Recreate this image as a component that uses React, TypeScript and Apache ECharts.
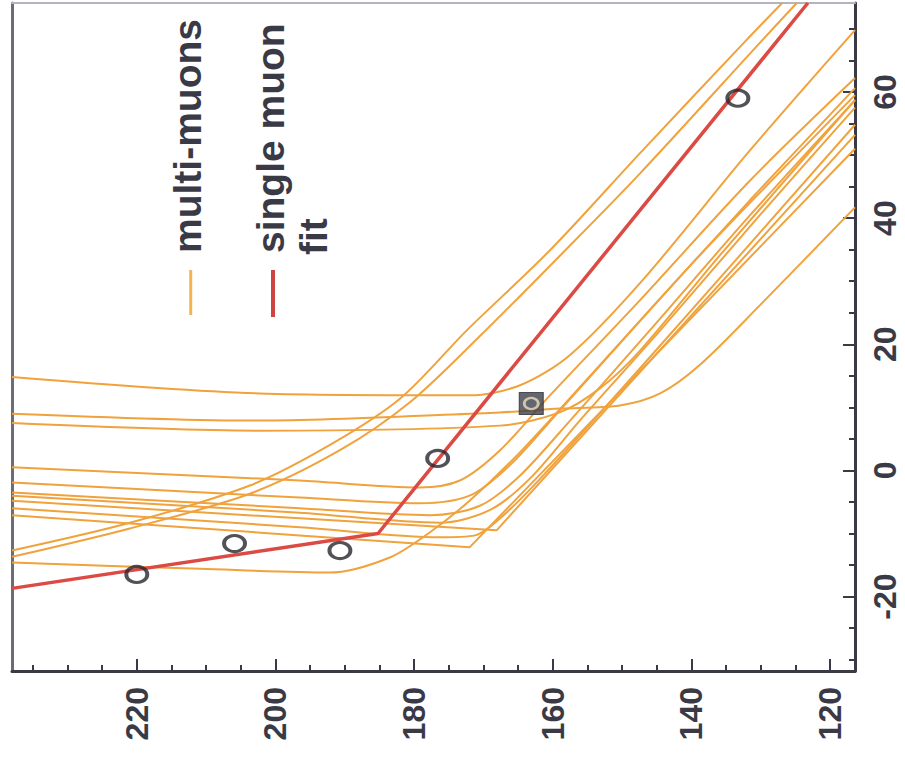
import React, { useEffect, useRef } from "react";
import * as echarts from "echarts";

// ---- axis ticks ----
const xMajorTicks = [120, 140, 160, 180, 200, 220];
const xMinorTicks = [120, 125, 130, 135, 140, 145, 150, 155, 160, 165, 170, 175, 180, 185, 190, 195, 200, 205, 210, 215, 220, 225, 230, 235];
const yMajorTicks = [-20, 0, 20, 40, 60];
const yMinorTicks = [-30, -25, -20, -15, -10, -5, 0, 5, 10, 15, 20, 25, 30, 35, 40, 45, 50, 55, 60, 65, 70];

// ---- single muon fit and hits ----
const fitLine = [[238.0, -18.7], [185.2, -10.0], [123.2, 74.1]];
const hitPoints = [[220.0, -16.5], [205.9, -11.6], [190.7, -12.7], [176.6, 1.9], [133.3, 59.0]];
const squarePoint = [[163.1, 10.6]];

// ---- multi-muon curves ----
const mu1 = [[238.0, -12.7], [221.0, -8.3], [203.7, -2.4], [192.2, 4.0], [182.0, 11.4], [172.4, 22.2], [160.4, 34.9], [147.4, 50.3], [132.0, 68.3], [126.9, 74.1]];
const mu2 = [[238.0, -13.7], [221.0, -9.2], [203.7, -3.7], [190.7, 3.2], [180.6, 10.8], [170.5, 21.3], [159.0, 34.0], [147.4, 47.1], [129.7, 68.3], [124.8, 74.1]];
const mu3 = [[238.0, 14.8], [202.3, 12.2], [172.0, 11.9], [164.7, 13.5], [157.5, 18.3], [147.0, 30.2], [131.5, 50.8], [116.4, 69.8]];
const mu4 = [[238.0, 9.0], [202.3, 7.9], [167.6, 9.2], [159.0, 9.8], [150.3, 10.3], [144.5, 12.2], [138.8, 16.7], [130.1, 26.2], [116.4, 41.7]];
const mu5 = [[238.0, 7.5], [202.3, 6.3], [167.6, 7.1], [159.0, 9.2], [153.2, 13.0], [147.4, 19.0], [135.9, 34.1], [116.4, 58.7]];
const mu6 = [[238.0, 0.5], [196.5, -1.6], [179.2, -2.7], [173.4, -1.6], [167.6, 3.2], [160.4, 11.9], [147.4, 27.0], [131.5, 46.0], [116.4, 62.2]];
const mu7 = [[238.0, -1.9], [196.5, -4.3], [179.2, -5.2], [172.0, -4.0], [166.2, 0.8], [159.0, 9.5], [146.0, 25.4], [131.5, 42.9], [116.4, 60.6]];
const mu8 = [[238.0, -3.5], [196.5, -6.0], [177.7, -7.1], [170.5, -5.6], [164.7, -0.8], [157.5, 7.9], [146.0, 22.2], [131.5, 40.5], [116.4, 58.7]];
const mu9 = [[238.0, -4.0], [196.5, -6.7], [176.3, -8.3], [169.1, -6.3], [163.3, -1.3], [156.1, 7.9], [144.5, 22.2], [130.1, 40.5], [116.4, 57.5]];
const mu10 = [[238.0, -14.6], [210.9, -15.6], [192.2, -16.2], [183.5, -13.8], [177.7, -9.8], [172.0, -4.8], [164.7, 2.9], [153.2, 16.7], [138.8, 34.1], [116.4, 59.5]];
const mu11 = [[238.0, -7.1], [196.5, -10.3], [172.0, -12.2], [116.4, 51.0]];
const mu12 = [[238.0, -4.8], [196.5, -7.6], [168.1, -9.5], [116.4, 53.2]];
const mu13 = [[238.0, -6.0], [196.5, -9.0], [176.3, -10.6], [171.2, -10.3], [167.6, -7.6], [161.8, -1.3], [147.4, 16.2], [116.4, 54.8]];

const smoothCurves = [mu1, mu2, mu3, mu4, mu5, mu6, mu7, mu8, mu9, mu10, mu13];
const sharpCurves = [mu11, mu12];

const ORANGE = "#f0a23c";
const RED = "#dc4a44";
const DARK = "#3a3a46";
const FONT = "Liberation Sans";

export default function App() {
  const ref = useRef<HTMLDivElement>(null);
  useEffect(() => {
    if (!ref.current) return;
    const chart = echarts.init(ref.current, undefined, { renderer: "svg" });
    const xMin = 116.4, xMax = 238;
    const yMin = -31.8, yMax = 74.1;
    const orangeSeries: any[] = [];
    smoothCurves.forEach((c, i) => {
      orangeSeries.push({
        name: "multi-muons " + (i + 1), type: "line", data: c, showSymbol: false, smooth: 0.3,
        lineStyle: { color: ORANGE, width: 2 }, z: 2, silent: true,
      });
    });
    sharpCurves.forEach((c, i) => {
      orangeSeries.push({
        name: "multi-muons k" + (i + 1), type: "line", data: c, showSymbol: false, smooth: false,
        lineStyle: { color: ORANGE, width: 2 }, z: 2, silent: true,
      });
    });
    const option: any = {
      animation: false,
      backgroundColor: "#ffffff",
      grid: { left: 12, right: 50, top: 3, bottom: 90, containLabel: false },
      xAxis: [
        {
          type: "value", min: xMin, max: xMax, inverse: true, position: "bottom",
          axisLine: { show: true, onZero: false, lineStyle: { color: DARK, width: 3 } },
          axisTick: { show: true, inside: true, length: 12, customValues: xMajorTicks, lineStyle: { color: DARK, width: 2 } },
          axisLabel: { show: true, customValues: xMajorTicks, rotate: 90, margin: 16, fontSize: 32, fontWeight: "bold", fontFamily: FONT, color: DARK },
          splitLine: { show: false },
        },
        {
          type: "value", min: xMin, max: xMax, inverse: true, position: "bottom",
          axisLine: { show: false, onZero: false },
          axisTick: { show: true, inside: true, length: 6, customValues: xMinorTicks, lineStyle: { color: DARK, width: 2 } },
          axisLabel: { show: false },
          splitLine: { show: false },
        },
        {
          type: "value", min: xMin, max: xMax, inverse: true, position: "top",
          axisLine: { show: true, onZero: false, lineStyle: { color: "#b4b4bc", width: 2 } },
          axisTick: { show: false }, axisLabel: { show: false }, splitLine: { show: false },
        },
      ],
      yAxis: [
        {
          type: "value", min: yMin, max: yMax, position: "right",
          axisLine: { show: true, onZero: false, lineStyle: { color: DARK, width: 3 } },
          axisTick: { show: true, inside: true, length: 12, customValues: yMajorTicks, lineStyle: { color: DARK, width: 2 } },
          axisLabel: { show: true, customValues: yMajorTicks, rotate: 90, margin: 14, fontSize: 32, fontWeight: "bold", fontFamily: FONT, color: DARK },
          splitLine: { show: false },
        },
        {
          type: "value", min: yMin, max: yMax, position: "right",
          axisLine: { show: false, onZero: false },
          axisTick: { show: true, inside: true, length: 6, customValues: yMinorTicks, lineStyle: { color: DARK, width: 2 } },
          axisLabel: { show: false },
          splitLine: { show: false },
        },
        {
          type: "value", min: yMin, max: yMax, position: "left",
          axisLine: { show: true, onZero: false, lineStyle: { color: "#6c6c76", width: 3 } },
          axisTick: { show: false }, axisLabel: { show: false }, splitLine: { show: false },
        },
      ],
      series: [
        ...orangeSeries,
        {
          name: "single muon fit", type: "line", data: fitLine, showSymbol: false, smooth: false,
          lineStyle: { color: RED, width: 3.5 }, z: 3, silent: true,
        },
        {
          name: "square", type: "scatter", data: squarePoint, symbol: "rect", symbolSize: [24, 22],
          itemStyle: { color: "#3e3e48", borderColor: "#2e2e36", borderWidth: 1 }, z: 4, silent: true,
        },
        {
          name: "square hit", type: "scatter", data: squarePoint, symbol: "circle", symbolSize: [14, 11],
          itemStyle: { color: "rgba(0,0,0,0)", borderColor: "#e9dcc0", borderWidth: 2.5 }, z: 5, silent: true,
        },
        {
          name: "hits", type: "scatter", data: hitPoints, symbol: "circle", symbolSize: [21, 16],
          itemStyle: { color: "rgba(0,0,0,0)", borderColor: "#26262e", borderWidth: 3.5 }, z: 5, silent: true,
        },
      ],
      graphic: [
        { type: "text", x: 187, y: 253, rotation: Math.PI / 2, style: { text: "multi-muons", fontSize: 39, fontWeight: "bold", fontFamily: FONT, fill: DARK, align: "left", verticalAlign: "middle" } },
        { type: "text", x: 270, y: 253, rotation: Math.PI / 2, style: { text: "single muon", fontSize: 39, fontWeight: "bold", fontFamily: FONT, fill: DARK, align: "left", verticalAlign: "middle" } },
        { type: "text", x: 313, y: 255, rotation: Math.PI / 2, style: { text: "fit", fontSize: 39, fontWeight: "bold", fontFamily: FONT, fill: DARK, align: "left", verticalAlign: "middle" } },
        { type: "line", shape: { x1: 190.7, y1: 270, x2: 190.7, y2: 315 }, style: { stroke: "#f2b552", lineWidth: 3 } },
        { type: "line", shape: { x1: 273, y1: 270, x2: 273, y2: 317 }, style: { stroke: "#cf4440", lineWidth: 4 } },
      ],
    };
    chart.setOption(option);
    return () => chart.dispose();
  }, []);
  return (
    <div
      ref={ref}
      style={{ position: "fixed", left: 0, top: 0, width: 905, height: 761, background: "#fff" }}
    />
  );
}
